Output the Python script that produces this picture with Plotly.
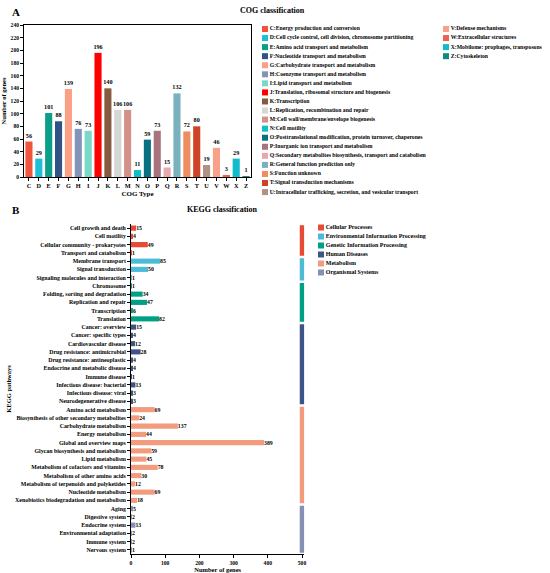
import plotly.graph_objects as go

# ---------------- data ----------------
cog_codes = ["C", "D", "E", "F", "G", "H", "I", "J", "K", "L", "M", "N",
             "O", "P", "Q", "R", "S", "T", "U", "V", "W", "X", "Z"]
cog_values = [56, 29, 101, 88, 139, 76, 73, 196, 140, 106, 106, 11,
              59, 73, 15, 132, 72, 80, 19, 46, 3, 29, 1]
cog_desc = [
    "C:Energy production and conversion",
    "D:Cell cycle control, cell division, chromosome partitioning",
    "E:Amino acid transport and metabolism",
    "F:Nucleotide transport and metabolism",
    "G:Carbohydrate transport and metabolism",
    "H:Coenzyme transport and metabolism",
    "I:Lipid transport and metabolism",
    "J:Translation, ribosomal structure and biogenesis",
    "K:Transcription",
    "L:Replication, recombination and repair",
    "M:Cell wall/membrane/envelope biogenesis",
    "N:Cell motility",
    "O:Posttranslational modification, protein turnover, chaperones",
    "P:Inorganic ion transport and metabolism",
    "Q:Secondary metabolites biosynthesis, transport and catabolism",
    "R:General function prediction only",
    "S:Function unknown",
    "T:Signal transduction mechanisms",
    "U:Intracellular trafficking, secretion, and vesicular transport",
    "V:Defense mechanisms",
    "W:Extracellular structures",
    "X:Mobilome: prophages, transposons",
    "Z:Cytoskeleton",
]
cog_colors = ["#F0543C", "#1EBDD8", "#0A9F86", "#2E5387", "#FCA085", "#8593B8",
              "#79D8C6", "#FF0000", "#865A3F", "#D6D6D6", "#D4908A", "#0FBFC7",
              "#087181", "#A9727F", "#E5A9AE", "#79B1BE", "#EE8D60", "#CE4227",
              "#AC9383", "#F9A08A", "#E9644F", "#12BACE", "#0E8C80"]
cog_ticks = list(range(0, 241, 20))

kegg_groups = ["Cellular Processes", "Environmental Information Processing",
               "Genetic Information Processing", "Human Diseases",
               "Metabolism", "Organismal Systems"]
kegg_group_colors = ["#E64B35", "#4DBBD5", "#00A087", "#3C5488", "#F39B7F", "#8491B4"]
kegg_pathways = [
    "Cell growth and death", "Cell motility", "Cellular community - prokaryotes",
    "Transport and catabolism",
    "Membrane transport", "Signal transduction", "Signaling molecules and interaction",
    "Chromosome", "Folding, sorting and degradation", "Replication and repair",
    "Transcription", "Translation",
    "Cancer: overview", "Cancer: specific types", "Cardiovascular disease",
    "Drug resistance: antimicrobial", "Drug resistance: antineoplastic",
    "Endocrine and metabolic disease", "Immune disease",
    "Infectious disease: bacterial", "Infectious disease: viral",
    "Neurodegenerative disease",
    "Amino acid metabolism", "Biosynthesis of other secondary metabolites",
    "Carbohydrate metabolism", "Energy metabolism", "Global and overview maps",
    "Glycan biosynthesis and metabolism", "Lipid metabolism",
    "Metabolism of cofactors and vitamins", "Metabolism of other amino acids",
    "Metabolism of terpenoids and polyketides", "Nucleotide metabolism",
    "Xenobiotics biodegradation and metabolism",
    "Aging", "Digestive system", "Endocrine system", "Environmental adaptation",
    "Immune system", "Nervous system",
]
kegg_values = [15, 4, 49, 1,
               85, 50, 1,
               1, 34, 47, 6, 82,
               15, 4, 12, 28, 4, 4, 1, 13, 3, 3,
               69, 24, 137, 44, 389, 59, 45, 78, 30, 12, 69, 18,
               5, 2, 13, 2, 2, 1]
kegg_group_sizes = [4, 3, 5, 10, 12, 6]
kegg_ticks = [0, 100, 200, 300, 400, 500]

# ---------------- layout helpers ----------------
W, H = 550, 573
FONT = "Liberation Serif"


def fx(x):
    return x / W


def fy(y):
    return 1 - y / H


def bfont(size, color="black"):
    return dict(family=FONT, size=size, color=color, weight="bold")


kegg_group_index = []
for gi, n in enumerate(kegg_group_sizes):
    kegg_group_index += [gi] * n
kegg_bar_colors = [kegg_group_colors[g] for g in kegg_group_index]
kegg_y = list(range(len(kegg_pathways)))

# x2 range is padded slightly past 500 so the group strips at 500 are not clipped
KX0, KX500 = 131, 302
KMAX = 507
kx_end = KX0 + (KX500 - KX0) * KMAX / kegg_ticks[-1]

fig = go.Figure()

# Panel A: COG bars
fig.add_trace(go.Bar(
    x=cog_codes, y=cog_values, marker=dict(color=cog_colors, line=dict(width=0)),
    text=cog_values, textposition="outside", textfont=bfont(6.2),
    constraintext="none", textangle=0,
    cliponaxis=False, width=0.72, showlegend=False, xaxis="x", yaxis="y",
))

# Panel B: KEGG bars
fig.add_trace(go.Bar(
    x=kegg_values, y=kegg_y, orientation="h",
    marker=dict(color=kegg_bar_colors, line=dict(width=0)),
    text=kegg_values, textposition="outside", textfont=bfont(5.8),
    constraintext="none", textangle=0,
    cliponaxis=False, width=0.62, showlegend=False, xaxis="x2", yaxis="y2",
))

# KEGG group strips along the right edge
start = 0
for gi, n in enumerate(kegg_group_sizes):
    fig.add_trace(go.Scatter(
        x=[kegg_ticks[-1], kegg_ticks[-1]], y=[start - 0.35, start + n - 1 + 0.35],
        mode="lines", line=dict(color=kegg_group_colors[gi], width=4.5),
        cliponaxis=False, showlegend=False, hoverinfo="skip",
        xaxis="x2", yaxis="y2",
    ))
    start += n

# Custom legends drawn on an invisible pixel-space axis
ROW = 9.06
col1_n = 19
leg_x, leg_y, leg_t, leg_c = [], [], [], []
for i, (d, c) in enumerate(zip(cog_desc, cog_colors)):
    if i < col1_n:
        leg_x.append(265)
        leg_y.append(29 + i * ROW)
    else:
        leg_x.append(446)
        leg_y.append(29 + (i - col1_n) * ROW)
    leg_t.append(d)
    leg_c.append(c)
fig.add_trace(go.Scatter(
    x=leg_x, y=leg_y, text=leg_t, mode="markers+text",
    marker=dict(symbol="square", size=6, color=leg_c, line=dict(width=0)),
    textposition="middle right", textfont=bfont(5.7),
    showlegend=False, hoverinfo="skip", xaxis="x3", yaxis="y3", cliponaxis=False,
))
fig.add_trace(go.Scatter(
    x=[321] * len(kegg_groups), y=[227.5 + i * 9 for i in range(len(kegg_groups))],
    text=kegg_groups, mode="markers+text",
    marker=dict(symbol="square", size=6, color=kegg_group_colors, line=dict(width=0)),
    textposition="middle right", textfont=bfont(6.0),
    showlegend=False, hoverinfo="skip", xaxis="x3", yaxis="y3", cliponaxis=False,
))

axis_common = dict(showline=True, linecolor="black", linewidth=0.8,
                   ticks="outside", ticklen=3, tickwidth=0.8, tickcolor="black",
                   showgrid=False, zeroline=False, automargin=False)

fig.update_layout(
    width=W, height=H,
    margin=dict(l=0, r=0, t=0, b=0),
    paper_bgcolor="white", plot_bgcolor="rgba(0,0,0,0)",
    barmode="overlay",
    font=bfont(6),
    xaxis=dict(domain=[fx(24), fx(251)], anchor="y", range=[-0.5, len(cog_codes) - 0.5],
               mirror=True, tickfont=bfont(6.3),
               title=dict(text="COG Type", font=bfont(7), standoff=2), **axis_common),
    yaxis=dict(domain=[fy(177), fy(25)], anchor="x", range=[0, 240], tickvals=cog_ticks,
               mirror=True, tickfont=bfont(5.6),
               title=dict(text="Number of genes", font=bfont(6.5), standoff=3), **axis_common),
    xaxis2=dict(domain=[fx(KX0), fx(kx_end)], anchor="y2", range=[0, KMAX], tickvals=kegg_ticks,
                tickfont=bfont(5.6),
                title=dict(text="Number of genes", font=bfont(6.5), standoff=1), **axis_common),
    yaxis2=dict(domain=[fy(554), fy(224)], anchor="x2",
                range=[len(kegg_pathways) - 0.5, -0.5],
                tickvals=kegg_y, ticktext=kegg_pathways, tickfont=bfont(5.9),
                title=dict(text="KEGG pathways", font=bfont(6.5), standoff=2), **axis_common),
    xaxis3=dict(domain=[0, 1], range=[0, W], visible=False, fixedrange=True),
    yaxis3=dict(domain=[0, 1], range=[H, 0], visible=False, fixedrange=True),
    annotations=[
        dict(text="A", x=fx(10), y=fy(12), xref="paper", yref="paper", showarrow=False,
             xanchor="left", yanchor="middle", font=bfont(11)),
        dict(text="COG classification", x=fx(272), y=fy(10), xref="paper", yref="paper",
             showarrow=False, xanchor="center", yanchor="middle", font=bfont(8)),
        dict(text="B", x=fx(10), y=fy(210), xref="paper", yref="paper", showarrow=False,
             xanchor="left", yanchor="middle", font=bfont(11)),
        dict(text="KEGG classification", x=fx(222), y=fy(209), xref="paper", yref="paper",
             showarrow=False, xanchor="center", yanchor="middle", font=bfont(8)),
    ],
)

fig.write_html("out.html", config={"displayModeBar": False},
               post_script="document.body.style.margin='0';")
